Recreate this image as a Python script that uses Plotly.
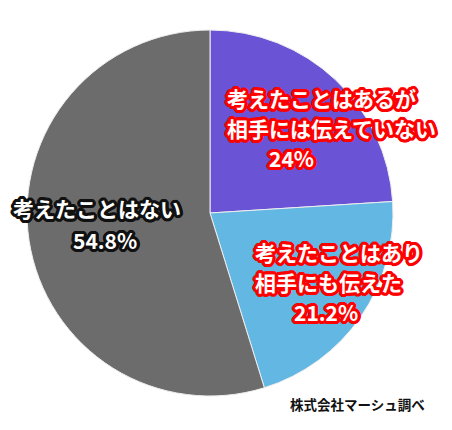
import math
import plotly.graph_objects as go

# answers (clockwise from 12 o'clock)
labels = ["考えたことはあるが相手には伝えていない", "考えたことはあり相手にも伝えた", "考えたことはない"]
label_lines = [["考えたことはあるが", "相手には伝えていない"],
               ["考えたことはあり", "相手にも伝えた"],
               ["考えたことはない"]]
values = [24, 21.2, 54.8]
source_note = "株式会社マーシュ調べ"

colors = ["#6a53d4", "#63b7e3", "#6c6c6c"]
outline = ["#ff0000", "#ff0000", "#111111"]

W, H = 452, 430
OFF = 8  # page body margin


def px(x):
    return (x - OFF) / W


def py(y):
    return 1 - (y - OFF) / H


def stroke(c, r=3.2):
    # ring of shadows -> rounded outline around the white text
    parts = []
    for k in range(16):
        a = 2 * math.pi * k / 16
        parts.append(f"{r * math.cos(a):.1f}px {r * math.sin(a):.1f}px 0.6px {c}")
    parts.append(f"0 0 1.5px {c}")
    return ", ".join(parts)


fig = go.Figure()
fig.add_trace(go.Pie(
    labels=labels, values=values, sort=False, direction="clockwise", rotation=0,
    marker=dict(colors=colors, line=dict(color="#eeeeee", width=1)),
    textinfo="none", hoverinfo="label+percent", showlegend=False,
    domain=dict(x=[px(27), px(393)], y=[py(396), py(30)]),
))

# label placement (pixel positions of each text block)
line_pos = [
    [(225, 98, "left"), (225, 128, "left"), (291, 158, "center")],
    [(253, 252, "left"), (253, 282, "left"), (326, 312, "center")],
    [(97, 208, "center"), (105, 240, "center")],
]
fnt = "Noto Sans CJK JP"
for i, lines in enumerate(label_lines):
    texts = lines + [f"{values[i]:g}%"]
    for t, (x, y, anc) in zip(texts, line_pos[i]):
        fig.add_annotation(
            x=px(x), y=py(y), xref="paper", yref="paper", text=t, showarrow=False,
            xanchor=anc, yanchor="middle",
            font=dict(family=fnt, size=21, color="white", weight="bold", shadow=stroke(outline[i])),
        )

fig.add_annotation(
    x=px(288), y=py(404), xref="paper", yref="paper", text=source_note, showarrow=False,
    xanchor="left", yanchor="middle",
    font=dict(family=fnt, size=13.5, color="#111111", weight="bold"),
)

fig.update_layout(
    width=W, height=H, margin=dict(l=0, r=0, t=0, b=0),
    paper_bgcolor="white", plot_bgcolor="white",
)

fig.write_html("out.html")
